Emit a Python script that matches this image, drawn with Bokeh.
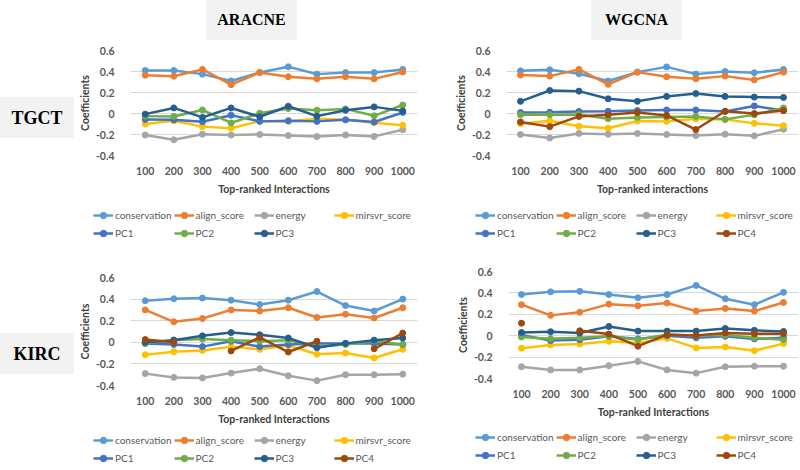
from bokeh.plotting import figure
from bokeh.models import (Range1d, FixedTicker, CustomJSTickFormatter, Legend,
                          LegendItem, Div, Spacer)
from bokeh.layouts import column, row
from bokeh.embed import file_html
from bokeh.resources import INLINE

nan = float("nan")

interactions = [100, 200, 300, 400, 500, 600, 700, 800, 900, 1000]
y_ticks = [-0.4, -0.2, 0.0, 0.2, 0.4, 0.6]
series_names = ["conservation", "align_score", "energy", "mirsvr_score",
                "PC1", "PC2", "PC3", "PC4"]
series_colors = ["#5B9BD5", "#ED7D31", "#A5A5A5", "#FFC000",
                 "#4472C4", "#70AD47", "#255E91", "#9E480E"]

# TGCT - ARACNE
tgct_aracne = {
    "conservation": [0.41, 0.41, 0.375, 0.31, 0.39, 0.445, 0.375, 0.39, 0.39, 0.42],
    "align_score":  [0.365, 0.355, 0.42, 0.275, 0.39, 0.35, 0.33, 0.35, 0.33, 0.395],
    "energy":       [-0.205, -0.25, -0.197, -0.205, -0.2, -0.21, -0.22, -0.205, -0.218, -0.155],
    "mirsvr_score": [-0.1, -0.07, -0.125, -0.14, -0.072, -0.075, -0.05, -0.06, -0.088, -0.112],
    "PC1":          [-0.056, -0.06, -0.078, -0.016, -0.075, -0.069, -0.075, -0.06, -0.081, 0.01],
    "PC2":          [-0.025, -0.028, 0.034, -0.09, 0.003, 0.047, 0.031, 0.044, -0.022, 0.081],
    "PC3":          [-0.006, 0.053, -0.037, 0.053, -0.031, 0.069, -0.025, 0.031, 0.063, 0.025],
}
# TGCT - WGCNA
tgct_wgcna = {
    "conservation": [0.406, 0.416, 0.378, 0.31, 0.394, 0.444, 0.375, 0.4, 0.388, 0.42],
    "align_score":  [0.366, 0.356, 0.42, 0.278, 0.394, 0.35, 0.33, 0.356, 0.32, 0.394],
    "energy":       [-0.2, -0.234, -0.19, -0.197, -0.19, -0.2, -0.21, -0.197, -0.213, -0.15],
    "mirsvr_score": [-0.097, -0.07, -0.122, -0.14, -0.072, -0.075, -0.05, -0.056, -0.094, -0.116],
    "PC1":          [0.01, 0.012, 0.019, 0.022, 0.028, 0.034, 0.034, 0.019, 0.072, 0.028],
    "PC2":          [-0.012, -0.012, -0.009, -0.05, -0.037, -0.034, -0.028, -0.056, -0.012, 0.053],
    "PC3":          [0.116, 0.219, 0.213, 0.14, 0.116, 0.163, 0.19, 0.163, 0.156, 0.153],
    "PC4":          [-0.081, -0.125, -0.028, -0.012, 0.01, -0.019, -0.153, 0.022, 0.0, 0.028],
}
# KIRC - ARACNE
kirc_aracne = {
    "conservation": [0.385, 0.403, 0.41, 0.39, 0.35, 0.39, 0.47, 0.34, 0.29, 0.4],
    "align_score":  [0.3, 0.19, 0.22, 0.3, 0.29, 0.32, 0.23, 0.26, 0.225, 0.32],
    "energy":       [-0.29, -0.325, -0.33, -0.285, -0.245, -0.31, -0.355, -0.3, -0.3, -0.295],
    "mirsvr_score": [-0.115, -0.087, -0.075, -0.04, -0.065, -0.03, -0.11, -0.1, -0.145, -0.065],
    "PC1":          [-0.01, -0.02, -0.04, 0.01, -0.04, -0.02, -0.01, -0.01, -0.01, -0.02],
    "PC2":          [-0.01, 0.02, 0.03, 0.02, 0.01, 0.02, -0.04, -0.02, 0.01, -0.02],
    "PC3":          [0.0, 0.02, 0.06, 0.09, 0.07, 0.04, -0.05, -0.01, 0.02, 0.04],
    "PC4":          [0.025, 0.0, nan, -0.08, 0.045, -0.09, 0.01, nan, -0.06, 0.085],
}
# KIRC - WGCNA
kirc_wgcna = {
    "conservation": [0.385, 0.41, 0.415, 0.385, 0.355, 0.385, 0.47, 0.345, 0.29, 0.405],
    "align_score":  [0.29, 0.19, 0.22, 0.295, 0.28, 0.305, 0.23, 0.255, 0.23, 0.31],
    "energy":       [-0.29, -0.32, -0.32, -0.28, -0.24, -0.32, -0.35, -0.29, -0.285, -0.285],
    "mirsvr_score": [-0.117, -0.086, -0.077, -0.052, -0.068, -0.025, -0.114, -0.105, -0.14, -0.074],
    "PC1":          [0.006, -0.046, -0.037, -0.006, -0.03, 0.0, -0.02, -0.006, -0.03, -0.02],
    "PC2":          [-0.012, -0.028, -0.02, -0.006, -0.037, 0.012, 0.0, 0.006, -0.02, -0.037],
    "PC3":          [0.03, 0.037, 0.025, 0.086, 0.043, 0.043, 0.043, 0.068, 0.05, 0.04],
    "PC4":          [0.117, nan, 0.046, 0.015, -0.098, 0.01, 0.003, 0.025, 0.018, 0.018],
}

SANS = "Lato"
TXT = "#595959"


def make_panel(data, xlabel, x_start, x_end, w, h, bl, br, bt, bb):
    p = figure(width=w, height=h,
               min_border_left=bl, min_border_right=br,
               min_border_top=bt, min_border_bottom=bb,
               x_range=Range1d(x_start, x_end), y_range=Range1d(-0.4, 0.6),
               output_backend="svg", toolbar_location=None,
               outline_line_color=None, border_fill_color="white", margin=0)
    p.xgrid.grid_line_color = None
    p.ygrid.grid_line_color = "#D9D9D9"
    p.ygrid.grid_line_width = 1
    p.xaxis.ticker = FixedTicker(ticks=interactions)
    p.yaxis.ticker = FixedTicker(ticks=y_ticks)
    p.xaxis.formatter = CustomJSTickFormatter(code="return tick.toFixed(0);")
    p.yaxis.formatter = CustomJSTickFormatter(
        code="return Math.abs(tick) < 1e-9 ? '0' : tick.toFixed(1);")
    for ax in (p.xaxis, p.yaxis):
        ax.axis_line_color = None
        ax.major_tick_line_color = None
        ax.minor_tick_line_color = None
        ax.major_label_text_font = SANS
        ax.major_label_text_font_style = "bold"
        ax.major_label_text_font_size = "10.5px"
        ax.major_label_text_color = TXT
        ax.axis_label_text_font = SANS
        ax.axis_label_text_font_style = "bold"
        ax.axis_label_text_font_size = "10.5px"
        ax.axis_label_text_color = "#404040"
    p.xaxis.axis_label = xlabel
    p.yaxis.axis_label = "Coefficients"
    p.xaxis.major_label_standoff = 5
    p.xaxis.axis_label_standoff = 5
    p.yaxis.major_label_standoff = 10
    p.yaxis.axis_label_standoff = 2

    for name, color in zip(series_names, series_colors):
        if name not in data:
            continue
        ys = data[name]
        p.line(interactions, ys, line_color=color, line_width=2.5)
        p.scatter(interactions, ys, marker="circle", size=6,
                  fill_color=color, line_color=color)
    return p


def make_legend(data, w, h):
    # legend-only figure; its ranges keep the (duplicate) series out of view
    lf = figure(width=w, height=h, min_border=0, margin=0,
                x_range=Range1d(-10, -9), y_range=Range1d(-10, -9),
                x_axis_location=None, y_axis_location=None,
                output_backend="svg", toolbar_location=None,
                outline_line_color=None, border_fill_color="white",
                background_fill_color="white")
    lf.xgrid.visible = False
    lf.ygrid.visible = False
    items = []
    for name, color in zip(series_names, series_colors):
        if name not in data:
            continue
        ys = data[name]
        lr = lf.line(interactions, ys, line_color=color, line_width=2.5)
        sr = lf.scatter(interactions, ys, marker="circle", size=6,
                        fill_color=color, line_color=color)
        items.append(LegendItem(label=name, renderers=[lr, sr]))
    leg = Legend(items=items, location="top_left", orientation="horizontal",
                 ncols=4, padding=0, margin=0, spacing=2,
                 glyph_width=20, glyph_height=16, label_height=16,
                 label_width=56, label_standoff=2,
                 label_text_font=SANS, label_text_font_size="10px",
                 label_text_color=TXT, border_line_color=None,
                 background_fill_alpha=0)
    lf.add_layout(leg, "center")
    return lf


def sp(w, h):
    return Spacer(width=w, height=h, margin=0)


p_tl = make_panel(tgct_aracne, "Top-ranked Interactions", 48.5, 1051.5,
                  365, 155, 50, 23, 8, 40)
p_tr = make_panel(tgct_wgcna, "Top-ranked interactions", 52.1, 1051.3,
                  360, 155, 66, 2, 8, 40)
p_bl = make_panel(kirc_aracne, "Top-ranked Interactions", 48.5, 1051.5,
                  365, 182, 50, 23, 32, 40)
p_br = make_panel(kirc_wgcna, "Top-ranked Interactions", 55.3, 1051.5,
                  360, 175, 68, 2, 26, 40)

col_tl = column(p_tl, sp(365, 10), row(sp(18, 38), make_legend(tgct_aracne, 347, 38)))
col_tr = column(p_tr, sp(360, 10), row(sp(35, 38), make_legend(tgct_wgcna, 325, 38)))
col_bl = column(p_bl, sp(365, 5), row(sp(18, 38), make_legend(kirc_aracne, 347, 38)))
col_br = column(p_br, sp(360, 9), row(sp(35, 40), make_legend(kirc_wgcna, 325, 40)))


def box_div(txt, w, h, top, bw, bh, size):
    html = (f'<div style="position:absolute;left:0px;top:{top}px;width:{bw}px;height:{bh}px;'
            f'background:#F2F2F2;display:flex;align-items:center;'
            f'justify-content:center;font-family:\'Liberation Serif\',serif;'
            f'font-weight:bold;font-size:{size}px;line-height:1;color:#000;">{txt}</div>')
    return Div(text=html, width=w, height=h, margin=0,
               styles={"position": "relative"})


title_row = row(sp(206, 42),
                box_div("ARACNE", 91, 42, 0, 91, 40, 16),
                sp(294, 42),
                box_div("WGCNA", 91, 42, 0, 91, 40, 16))
row_b = row(box_div("TGCT", 75, 203, 55, 74, 41, 18), col_tl, col_tr)
row_c = row(box_div("KIRC", 75, 224, 88, 74, 41, 18), col_bl, col_br)

layout = column(title_row, row_b, row_c)

open("out.html", "w").write(file_html(layout, INLINE))
